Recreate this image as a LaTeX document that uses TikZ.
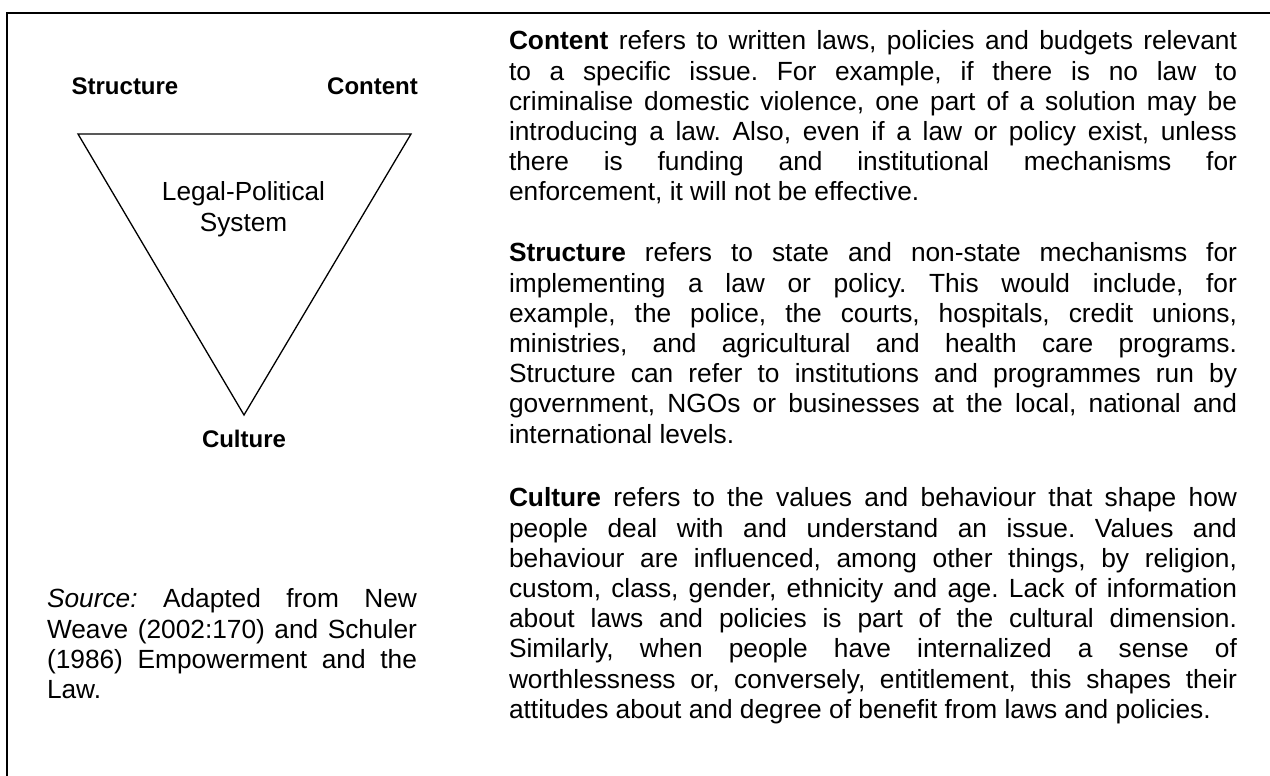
\documentclass[tikz,border=0pt]{standalone}
\usepackage{fontspec}
\setmainfont{Liberation Sans}
\frenchspacing
\hyphenpenalty=10000
\exhyphenpenalty=10000
\tikzset{
  bodytext/.style={anchor=base west, inner sep=0pt, outer sep=0pt, align=justify,
    font=\fontsize{26.3}{30.2}\selectfont},
  vertexlabel/.style={anchor=base, inner sep=0pt, outer sep=0pt,
    font=\fontsize{24}{28}\selectfont\bfseries},
  trianglepath/.style={draw=drawColor, line width=1.3pt, line join=miter}
}
\begin{document}
\begin{tikzpicture}[x=1pt,y=1pt]
\definecolor{drawColor}{RGB}{0,0,0}
\definecolor{fillColor}{RGB}{255,255,255}
\useasboundingbox (0,0) rectangle (1270,776);
\path[fill=fillColor] (0,0) rectangle (1270,776);
\begin{scope}
% frame: left and top rule only
\path[draw=drawColor,line width= 2.0pt] (   7.00,  0.00) -- (   7.00,763.00) -- (1270.00,763.00);
\end{scope}
\begin{scope}
\coordinate (structurecorner) at ( 78.00,642.00);
\coordinate (contentcorner) at (411.00,642.00);
\coordinate (culturecorner) at (244.00,361.00);

\path[trianglepath] (structurecorner) -- (contentcorner) -- (culturecorner) -- cycle;
\end{scope}
\begin{scope}
\node[vertexlabel] (structurelabel) at (125.00,681.00) {Structure};
\node[vertexlabel] (contentlabel) at (372.50,681.00) {Content};
\node[vertexlabel] (culturelabel) at (244.00,328.00) {Culture};
\node[anchor=base, inner sep=0pt, outer sep=0pt, text width=240pt, align=center,
  font=\fontsize{26.2}{31}\selectfont] (systemlabel) at (243.50,575.00) {Legal-Political\\System};
\end{scope}
\begin{scope}
\node[bodytext, text width=370pt] (sourcenote) at ( 47.00,168.00)
  {\textit{Source:} Adapted from New\linebreak
   Weave (2002:170) and Schuler\linebreak
   (1986) Empowerment and the\linebreak
   Law.};
\end{scope}
\begin{scope}
\node[bodytext, text width=728pt] (contenttext) at (509.00,726.00)
  {\textbf{Content} refers to written laws, policies and budgets relevant\linebreak
   to a specific issue. For example, if there is no law to\linebreak
   criminalise domestic violence, one part of a solution may be\linebreak
   introducing a law. Also, even if a law or policy exist, unless\linebreak
   there is funding and institutional mechanisms for\linebreak
   enforcement, it will not be effective.};
\node[bodytext, text width=728pt] (structuretext) at (509.00,514.00)
  {\textbf{Structure} refers to state and non-state mechanisms for\linebreak
   implementing a law or policy. This would include, for\linebreak
   example, the police, the courts, hospitals, credit unions,\linebreak
   ministries, and agricultural and health care programs.\linebreak
   Structure can refer to institutions and programmes run by\linebreak
   government, NGOs or businesses at the local, national and\linebreak
   international levels.};
\node[bodytext, text width=728pt] (culturetext) at (509.00,269.00)
  {\textbf{Culture} refers to the values and behaviour that shape how\linebreak
   people deal with and understand an issue. Values and\linebreak
   behaviour are influenced, among other things, by religion,\linebreak
   custom, class, gender, ethnicity and age. Lack of information\linebreak
   about laws and policies is part of the cultural dimension.\linebreak
   Similarly, when people have internalized a sense of\linebreak
   worthlessness or, conversely, entitlement, this shapes their\linebreak
   attitudes about and degree of benefit from laws and policies.};
\end{scope}
\end{tikzpicture}
\end{document}
